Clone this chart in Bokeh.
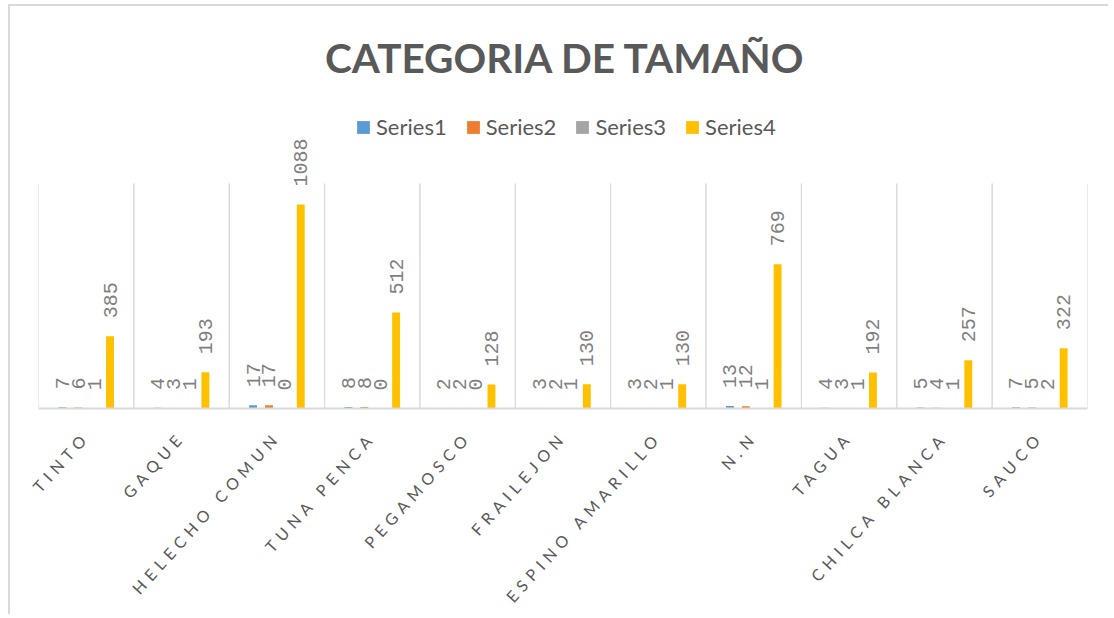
from math import pi, cos, sin, radians
from bokeh.plotting import figure
from bokeh.models import FactorRange, Range1d, Label, Legend, LegendItem, ColumnDataSource, Span
from bokeh.transform import dodge
from bokeh.core.properties import value
from bokeh.embed import file_html
from bokeh.resources import INLINE

# ---------------- data ----------------
categories = ["TINTO", "GAQUE", "HELECHO COMUN", "TUNA PENCA", "PEGAMOSCO", "FRAILEJON",
              "ESPINO AMARILLO", "N.N", "TAGUA", "CHILCA BLANCA", "SAUCO"]
series1 = [7, 4, 17, 8, 2, 3, 3, 13, 4, 5, 7]
series2 = [6, 3, 17, 8, 2, 2, 2, 12, 3, 4, 5]
series3 = [1, 1, 0, 0, 0, 1, 1, 1, 1, 1, 2]
series4 = [385, 193, 1088, 512, 128, 130, 130, 769, 192, 257, 322]
series_names = ["Series1", "Series2", "Series3", "Series4"]
title_text = "CATEGORIA  DE TAMAÑO"
value_axis_max = 1200  # the value axis of the original ends here (hidden)

# ---------------- style / layout ----------------
colors = ["#5B9BD5", "#ED7D31", "#A5A5A5", "#FFC000"]
offsets = [-0.25, -0.0833, 0.0833, 0.25]
bar_width = 0.083
FIG_W = 1100
TOP_H, BOT_H = 410, 200
BORDER_L, BORDER_R = 28, 23
GRID_PX = 225                       # pixel height of the gridded area
PX_PER_UNIT = GRID_PX / value_axis_max
ZERO_PX = 402                       # distance of the zero line from the figure top
FRAME_BOTTOM = 405
y_start = -(FRAME_BOTTOM - ZERO_PX) / PX_PER_UNIT
y_end = ZERO_PX / PX_PER_UNIT
LETTER_SP = 5.5                     # letter spacing of category labels (px)
CAT_STANDOFF = 19
CAT_ANGLE = radians(48)
N = len(categories)
CAT_PX = (FIG_W - BORDER_L - BORDER_R) / N
LAB_PAD_PX = 26

data = {"cat": categories}
for name, vals in zip(series_names, [series1, series2, series3, series4]):
    data[name] = vals
    data[name + "_lbl"] = [str(v) for v in vals]
data["zero"] = [0] * N
data["gtop"] = [value_axis_max] * N
src = ColumnDataSource(data)

p = figure(x_range=FactorRange(factors=categories), y_range=(y_start, y_end),
           width=FIG_W, height=TOP_H, output_backend="svg", toolbar_location=None,
           x_axis_location=None, y_axis_location=None,
           min_border_left=BORDER_L, min_border_right=BORDER_R,
           min_border_top=0, min_border_bottom=TOP_H - FRAME_BOTTOM)
p.outline_line_color = None
p.xgrid.grid_line_color = None
p.ygrid.grid_line_color = None
p.styles = {"border-top": "2px solid #d9d9d9", "border-left": "2px solid #d9d9d9",
            "margin-left": "8px", "margin-top": "4px"}

# category separators (vertical gridlines) limited to the value axis extent
for edge in (-0.5, 0.5):
    p.segment(x0=dodge("cat", edge, range=p.x_range), x1=dodge("cat", edge, range=p.x_range),
              y0="zero", y1="gtop", source=src, line_color="#d9d9d9", line_width=1)
# category axis line
p.add_layout(Span(location=0, dimension="width", line_color="#d9d9d9", line_width=2))

renderers = []
for name, c, off in zip(series_names, colors, offsets):
    r = p.vbar(x=dodge("cat", off, range=p.x_range), top=name, width=bar_width,
               source=src, fill_color=c, line_color=None)
    renderers.append(r)
    p.text(x=dodge("cat", off, range=p.x_range), y=name, text=name + "_lbl", source=src,
           angle=pi / 2, text_align="left", text_baseline="middle", y_offset=-18,
           text_font=value("Liberation Mono"), text_font_size="20px", text_color="#7f7f7f")

legend = Legend(items=[LegendItem(label=n, renderers=[r]) for n, r in zip(series_names, renderers)],
                orientation="horizontal", location=(317, 271))
legend.border_line_color = None
legend.background_fill_alpha = 0
legend.padding = 0
legend.margin = 0
legend.glyph_width = 16
legend.glyph_height = 16
legend.label_standoff = 5
legend.spacing = 18
legend.label_text_font = "Lato"
legend.label_text_font_size = "22px"
legend.label_text_color = "#595959"
p.add_layout(legend)

title = Label(x=532, y=354, x_units="screen", y_units="screen", text=title_text,
              text_align="center", text_baseline="middle", text_font="Lato",
              text_font_style="bold", text_font_size="40.5px", text_color="#595959")
p.add_layout(title)

# ---------------- category labels (own root, letter-spaced) ----------------
# same category scale as the bars: category i is centred at i + 0.5
shift = [len(c) * LETTER_SP for c in categories]
lab_src = ColumnDataSource({"cat": categories,
                            "xc": [i + 0.5 for i in range(N)],
                            "y": [0] * N,
                            "dx": [-s * cos(CAT_ANGLE) for s in shift],
                            "dy": [CAT_STANDOFF + s * sin(CAT_ANGLE) for s in shift]})
pad_units = LAB_PAD_PX / CAT_PX
q = figure(x_range=Range1d(-pad_units, N + pad_units),
           y_range=(-BOT_H, 0), width=2 + round(FIG_W - BORDER_L - BORDER_R + 2 * LAB_PAD_PX),
           height=BOT_H, output_backend="svg", toolbar_location=None,
           x_axis_location=None, y_axis_location=None,
           min_border_left=2, min_border_right=0,
           min_border_top=0, min_border_bottom=0)
q.outline_line_color = None
q.xgrid.grid_line_color = None
q.ygrid.grid_line_color = None
q.styles = {"letter-spacing": f"{LETTER_SP}px", "border-left": "2px solid #d9d9d9",
            "margin-left": "8px"}
q.text(x="xc", y="y", text="cat", source=lab_src, angle=CAT_ANGLE,
       text_align="right", text_baseline="middle", x_offset="dx", y_offset="dy",
       text_font=value("Lato"), text_font_size="16px", text_color="#595959")

open("out.html", "w").write(file_html([p, q], INLINE))
